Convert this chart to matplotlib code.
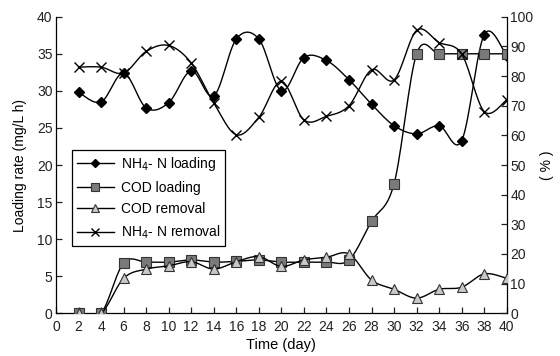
import matplotlib
matplotlib.use("Agg")
import matplotlib.pyplot as plt
import numpy as np

plt.rcParams["font.family"] = ["Liberation Sans", "DejaVu Sans"]
plt.rcParams["font.size"] = 10

# Data
days = [2, 4, 6, 8, 10, 12, 14, 16, 18, 20, 22, 24, 26, 28, 30, 32, 34, 36, 38, 40]
nh4_loading = [29.8, 28.5, 32.4, 27.7, 28.4, 32.7, 29.3, 37.0, 37.0, 30.0,
               34.5, 34.1, 31.5, 28.2, 25.3, 24.2, 25.3, 23.3, 37.6, 34.7]
cod_loading = [0.0, 0.0, 6.8, 6.9, 6.9, 7.2, 6.9, 7.0, 7.2, 6.9,
               6.9, 6.9, 7.2, 12.4, 17.5, 35.0, 35.0, 35.0, 35.0, 35.0]
cod_removal = [0.0, 0.0, 11.8, 14.9, 16.0, 17.4, 14.9, 17.4, 19.1, 15.8,
               18.0, 18.9, 20.0, 11.2, 8.1, 5.1, 8.1, 8.8, 13.3, 11.8]
nh4_removal = [83.0, 83.0, 81.0, 88.3, 90.3, 84.4, 70.9, 60.2, 66.1, 78.2,
               65.2, 66.4, 70.0, 82.1, 78.7, 95.4, 91.3, 87.4, 68.0, 72.0]


def smooth(x, y, n=16):
    # Catmull-Rom style smoothing, like the spreadsheet "smoothed line"
    x = np.asarray(x, float)
    y = np.asarray(y, float)
    px = np.concatenate([[x[0]], x, [x[-1]]])
    py = np.concatenate([[y[0]], y, [y[-1]]])
    xs, ys = [], []
    t = np.linspace(0, 1, n, endpoint=False)
    for i in range(1, len(px) - 2):
        p0, p1, p2, p3 = (np.array([px[j], py[j]]) for j in (i - 1, i, i + 1, i + 2))
        c1 = p1 + (p2 - p0) / 6
        c2 = p2 - (p3 - p1) / 6
        b = ((1 - t) ** 3)[:, None] * p1 + (3 * (1 - t) ** 2 * t)[:, None] * c1 \
            + (3 * (1 - t) * t ** 2)[:, None] * c2 + (t ** 3)[:, None] * p2
        xs.extend(b[:, 0])
        ys.extend(b[:, 1])
    xs.append(x[-1])
    ys.append(y[-1])
    return xs, ys


fig = plt.figure(figsize=(5.6, 3.56), dpi=100)
ax = fig.add_axes([0.1, 0.12, 0.805, 0.833])
ax2 = ax.twinx()

lw = 1.0
ax.plot(*smooth(days, nh4_loading), color="black", lw=lw, zorder=3)
ax.plot(days, nh4_loading, ls="none", marker="D", ms=5.5, color="black", zorder=4)
ax.plot(*smooth(days, cod_loading), color="black", lw=lw, zorder=3)
ax.plot(days, cod_loading, ls="none", marker="s", ms=7, mfc="#7a7a7a",
        mec="#333333", mew=0.8, zorder=4)
ax2.plot(*smooth(days, cod_removal), color="black", lw=lw, zorder=3)
ax2.plot(days, cod_removal, ls="none", marker="^", ms=7.5, mfc="#c8c8c8",
         mec="#333333", mew=0.8, zorder=4)
ax2.plot(*smooth(days, nh4_removal), color="black", lw=lw, zorder=3)
ax2.plot(days, nh4_removal, ls="none", marker="x", ms=7, mec="black", mew=1.0, zorder=4)

ax.set_xlim(0, 40)
ax.set_ylim(0, 40)
ax2.set_ylim(0, 100)
ax.set_xticks(range(0, 41, 2))
ax.set_yticks(range(0, 41, 5))
ax2.set_yticks(range(0, 101, 10))

for a in (ax, ax2):
    a.spines["top"].set_visible(False)
    a.tick_params(direction="in", length=4, width=0.9, colors="#222222",
                  labelcolor="#222222", labelsize=10, pad=2.5)
    for s in a.spines.values():
        s.set_linewidth(0.9)
ax.tick_params(axis="x", pad=5)
ax.spines["right"].set_visible(False)
ax2.spines["left"].set_visible(False)
ax2.spines["bottom"].set_visible(False)

ax.set_xlabel("Time (day)", fontsize=10.5, labelpad=3)
ax.set_ylabel("Loading rate (mg/L h)", fontsize=10, labelpad=7)
ax2.set_ylabel("( % )", fontsize=10, rotation=90, labelpad=5)

handles = [
    plt.Line2D([], [], color="black", lw=lw, marker="D", ms=4.5),
    plt.Line2D([], [], color="black", lw=lw, marker="s", ms=5.5, mfc="#7a7a7a",
               mec="#333333", mew=0.8),
    plt.Line2D([], [], color="black", lw=lw, marker="^", ms=6, mfc="#c8c8c8",
               mec="#333333", mew=0.8),
    plt.Line2D([], [], color="black", lw=lw, marker="x", ms=6, mew=1.0),
]
labels = ["NH$_4$- N loading", "COD loading", "COD removal", "NH$_4$- N removal"]
leg = ax.legend(handles, labels, loc="upper left", bbox_to_anchor=(0.035, 0.55),
                borderaxespad=0, fontsize=10, frameon=True, fancybox=False,
                framealpha=1, edgecolor="black", handlelength=2.7,
                labelspacing=0.55, borderpad=0.35, handletextpad=0.5)
leg.get_frame().set_linewidth(0.9)
leg.set_zorder(10)

fig.savefig("out.png", dpi=100)
